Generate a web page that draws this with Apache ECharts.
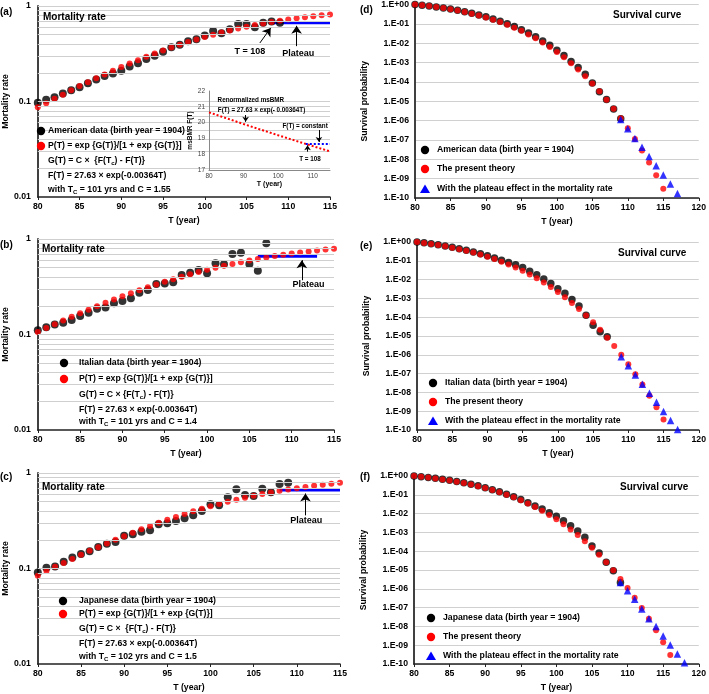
<!DOCTYPE html>
<html><head><meta charset="utf-8">
<script src="https://cdn.jsdelivr.net/npm/echarts@6/dist/echarts.min.js"></script>
<style>html,body{margin:0;padding:0;background:#fff}#c{width:709px;height:694px}</style>
</head><body><div id="c"></div><script>
// ---------- data ----------
const years = [80,81,82,83,84,85,86,87,88,89,90,91,92,93,94,95,96,97,98,99,100,101,102,103,104,105,106,107,108,109,110,111,112,113,114,115,116,117,118];

// mortality rate (a) American, (b) Italian, (c) Japanese
const mortA_black = [0.097,0.104,0.111,0.121,0.131,0.141,0.155,0.170,0.185,0.197,0.210,0.232,0.251,0.278,0.302,0.332,0.369,0.394,0.427,0.448,0.490,0.547,0.517,0.570,0.648,0.648,0.598,0.669,0.690,0.669];
const mortA_red = [0.087,0.096,0.107,0.118,0.131,0.145,0.159,0.175,0.192,0.210,0.230,0.250,0.271,0.294,0.318,0.342,0.367,0.393,0.419,0.446,0.473,0.500,0.527,0.554,0.580,0.605,0.631,0.655,0.678,0.701,0.722,0.743,0.762,0.780,0.798,0.814];
const mortB_black = [0.111,0.119,0.127,0.133,0.142,0.156,0.169,0.186,0.192,0.212,0.224,0.239,0.274,0.292,0.338,0.343,0.352,0.420,0.444,0.473,0.437,0.556,0.543,0.697,0.719,0.547,0.466,0.902];
const mortB_red = [0.106,0.117,0.128,0.140,0.153,0.167,0.182,0.198,0.215,0.232,0.251,0.270,0.291,0.312,0.334,0.356,0.379,0.403,0.427,0.451,0.476,0.500,0.524,0.548,0.572,0.596,0.618,0.641,0.662,0.683,0.703,0.723,0.741,0.759,0.775,0.791];
const mortC_black = [0.091,0.102,0.105,0.118,0.130,0.142,0.152,0.168,0.182,0.190,0.220,0.228,0.243,0.252,0.290,0.297,0.315,0.335,0.360,0.400,0.470,0.460,0.556,0.675,0.590,0.574,0.685,0.630,0.767,0.792];
const mortC_red = [0.084,0.094,0.104,0.114,0.126,0.139,0.153,0.167,0.183,0.200,0.218,0.237,0.257,0.279,0.301,0.324,0.347,0.372,0.397,0.422,0.448,0.474,0.500,0.526,0.552,0.577,0.602,0.626,0.650,0.673,0.694,0.715,0.735,0.755,0.773,0.790];
const plateauA = {from:108, to:115, value:0.667};
const plateauB = {from:106, to:113, value:0.660};
const plateauC = {from:108, to:115, value:0.664};

// survival probability, read as decimal exponent (1.E-xx axis)
const survA_black = [0,-0.035,-0.078,-0.125,-0.178,-0.236,-0.300,-0.372,-0.452,-0.540,-0.638,-0.745,-0.865,-0.997,-1.142,-1.302,-1.478,-1.672,-1.882,-2.112,-2.362,-2.640,-2.945,-3.260,-3.610,-4.060,-4.510,-4.910,-5.400,-5.900];
const survA_red = [0,-0.039,-0.083,-0.133,-0.187,-0.248,-0.316,-0.391,-0.475,-0.568,-0.670,-0.783,-0.908,-1.046,-1.197,-1.363,-1.545,-1.743,-1.960,-2.196,-2.452,-2.731,-3.032,-3.357,-3.707,-4.083,-4.487,-4.920,-5.382,-5.874,-6.398,-6.955,-7.544,-8.168,-8.826,-9.519];
const survA_blue = [-5.94,-6.42,-6.92,-7.38,-7.86,-8.33,-8.81,-9.28,-9.77];
const survB_black = [0,-0.045,-0.095,-0.152,-0.213,-0.283,-0.360,-0.440,-0.530,-0.630,-0.735,-0.850,-0.970,-1.085,-1.215,-1.360,-1.550,-1.740,-1.970,-2.210,-2.490,-2.720,-3.060,-3.400,-3.900,-4.430,-4.770,-5.040];
const survB_red = [0,-0.049,-0.103,-0.162,-0.228,-0.300,-0.380,-0.467,-0.563,-0.667,-0.782,-0.908,-1.044,-1.194,-1.356,-1.532,-1.724,-1.931,-2.155,-2.397,-2.657,-2.938,-3.239,-3.561,-3.906,-4.275,-4.668,-5.087,-5.531,-6.003,-6.502,-7.030,-7.586,-8.173,-8.790,-9.439];
const survB_blue = [-6.10,-6.58,-7.07,-7.56,-8.05,-8.53,-9.02,-9.50,-9.98];
const survC_black = [0,-0.035,-0.075,-0.120,-0.170,-0.228,-0.290,-0.360,-0.440,-0.525,-0.620,-0.725,-0.840,-0.965,-1.100,-1.255,-1.420,-1.600,-1.750,-1.950,-2.140,-2.380,-2.640,-2.930,-3.260,-3.720,-4.100,-4.590,-5.040,-5.660];
const survC_red = [0,-0.038,-0.081,-0.129,-0.181,-0.240,-0.305,-0.376,-0.456,-0.544,-0.641,-0.748,-0.865,-0.995,-1.136,-1.292,-1.461,-1.647,-1.848,-2.068,-2.306,-2.564,-2.843,-3.144,-3.468,-3.817,-4.190,-4.590,-5.017,-5.473,-5.958,-6.473,-7.018,-7.596,-8.206,-8.849,-9.525];
const survC_blue = [-5.66,-6.10,-6.56,-7.07,-7.59,-8.01,-8.51,-8.99,-9.47,-9.93];
const survTickLabels = ['1.E-10','1.E-09','1.E-08','1.E-07','1.E-06','1.E-05','1.E-04','1.E-03','1.E-02','1.E-01','1.E+00'];

// inset: renormalized msBMR
const insetT = [80,85,90,95,100,105,110,115];
const insetF = [20.650,20.278,19.912,19.553,19.200,18.854,18.514,18.180];
const insetPlateau = {from:108, to:115, value:18.65};

// minor/major horizontal grid lines of the mortality panels
const mortGridVals = [0.02,0.03,0.04,0.05,0.06,0.07,0.08,0.09,0.1,0.2,0.3,0.4,0.5,0.6,0.7,0.8,0.9,1];

// ---------- helpers ----------
const FONT = '"Liberation Sans", Arial, sans-serif';
const bold = s => 'bold ' + s + 'px ' + FONT;
function span(a, b){ return years.slice(a - 80, b - 79); }
function pairs(xs, ys){ return ys.map((v, i) => [xs[i], v]); }
const TXT = {fontFamily: FONT, fontWeight: 'bold', color: '#000'};

const grids = [
  {left:33, top:6, width:297, height:191},
  {left:33, top:239, width:301, height:191},
  {left:33, top:473, width:307, height:191},
  {left:415, top:4, width:286, height:194},
  {left:417, top:242, width:284, height:188},
  {left:414, top:476, width:286, height:188},
  {left:209, top:91, width:121, height:79}
];

function xAx(gi, max){
  return {gridIndex: gi, type:'value', min:80, max:max, interval:5,
    axisLine:{onZero:false, lineStyle:{color:'#222', width:1.5}},
    axisTick:{show:true, length:3, lineStyle:{color:'#222'}},
    axisLabel:Object.assign({fontSize:8.7, margin:5}, TXT),
    splitLine:{show:false},
    name:'T (year)', nameLocation:'middle', nameGap:19,
    nameTextStyle:Object.assign({fontSize:8.7}, TXT)};
}
function mortY(gi){
  return {gridIndex: gi, type:'log', logBase:10, min:0.01, max:1,
    axisLine:{show:true, onZero:false, lineStyle:{color:'#404040', width:2}},
    axisTick:{show:false},
    axisLabel:Object.assign({fontSize:8.7, margin:7, formatter: v => String(Number(v.toPrecision(2)))}, TXT),
    splitLine:{show:false},
    name:'Mortality rate', nameLocation:'middle', nameGap:23,
    nameTextStyle:Object.assign({fontSize:8.7}, TXT)};
}
function survY(gi){
  return {gridIndex: gi, type:'value', min:-10, max:0, interval:1,
    axisLine:{show:true, onZero:false, lineStyle:{color:'#404040', width:2}},
    axisTick:{show:false},
    axisLabel:Object.assign({fontSize:8.7, margin:6, formatter: v => survTickLabels[Math.round(v) + 10]}, TXT),
    splitLine:{show:true, lineStyle:{color:'#d0d0d0', width:1}},
    name:'Survival probability', nameLocation:'middle', nameGap:46,
    nameTextStyle:Object.assign({fontSize:8.7}, TXT)};
}

function arrowML(list, size){
  return {silent:true, symbol:['none','arrow'], symbolSize: size || 8,
    itemStyle:{color:'#000'},
    lineStyle:{color:'#000', width:1, type:'solid'}, label:{show:false},
    data: list.map(a => [{coord:a[0], symbol:'none'}, {coord:a[1], symbol:'arrow', symbolSize: size || 8}])};
}
function textMP(list, size){
  return {silent:true, symbol:'circle', symbolSize:0,
    label:Object.assign({show:true, position:'inside', fontSize:size}, TXT),
    data: list.map(t => ({coord:[t[0], t[1]], label:{formatter:t[2]}}))};
}

function mortSeries(gi, black, blackTo, red, plat, arrows, texts){
  return [
    {type:'scatter', xAxisIndex:gi, yAxisIndex:gi, data:[], z:1,
      markLine:{silent:true, symbol:'none', label:{show:false},
        lineStyle:{color:'#cfcfcf', width:1, type:'solid'},
        data: mortGridVals.map(v => ({yAxis:v}))}},
    {type:'scatter', xAxisIndex:gi, yAxisIndex:gi, data:pairs(span(80, blackTo), black),
      symbolSize:8, itemStyle:{color:'#000'}, z:3},
    {type:'scatter', xAxisIndex:gi, yAxisIndex:gi, data:pairs(span(80, 115), red),
      symbolSize:6, itemStyle:{color:'#ff0000'}, z:4},
    {type:'line', xAxisIndex:gi, yAxisIndex:gi, data:[[plat.from, plat.value],[plat.to, plat.value]],
      symbol:'none', lineStyle:{color:'#0000ff', width:3}, z:3},
    {type:'scatter', xAxisIndex:gi, yAxisIndex:gi, data:[], z:6,
      markLine: arrowML(arrows, 8), markPoint: textMP(texts, 9)}
  ];
}
function survSeries(gi, black, blackTo, red, redTo, blue, blueTo){
  return [
    {type:'scatter', xAxisIndex:gi, yAxisIndex:gi, data:pairs(span(80, blackTo), black),
      symbolSize:7.5, itemStyle:{color:'#000'}, z:3},
    {type:'scatter', xAxisIndex:gi, yAxisIndex:gi, data:pairs(span(80, redTo), red),
      symbolSize:6, itemStyle:{color:'#ff0000'}, z:4},
    {type:'scatter', xAxisIndex:gi, yAxisIndex:gi, data:pairs(span(109, blueTo), blue),
      symbol:'triangle', symbolSize:7.5, itemStyle:{color:'#0000ff'}, z:5}
  ];
}

// ---------- graphic texts / legends ----------
const g = [];
function T(x, y, text, size, extra){
  g.push({type:'text', x:x, y:y, z:20, style:Object.assign({text:text, font:bold(size), fill:'#000', align:'left', verticalAlign:'middle'}, extra || {})});
}
function dot(x, y, color){ g.push({type:'circle', z:20, shape:{cx:x, cy:y, r:4.2}, style:{fill:color}}); }
function tri(x, y){ g.push({type:'polygon', z:20, shape:{points:[[x, y-4.5],[x+5, y+4],[x-5, y+4]]}, style:{fill:'#0000ff'}}); }
const subRich = {s:{font:bold(6), verticalAlign:'bottom', padding:[5,0,0,0]}};

// panel letters
T(0, 12, '(a)', 10); T(0, 245, '(b)', 10); T(0, 477, '(c)', 10);
T(360, 10, '(d)', 10); T(360, 246, '(e)', 10); T(360, 477, '(f)', 10);
// titles
T(43, 17, 'Mortality rate', 10); T(42, 249, 'Mortality rate', 10); T(42, 487, 'Mortality rate', 10);
T(613, 15, 'Survival curve', 10); T(618, 253, 'Survival curve', 10); T(620, 487, 'Survival curve', 10);

// mortality legends
function mortLegend(cx, tx, rows, first, G, Tc, C){
  dot(cx, rows[0], '#000'); dot(cx, rows[1], '#ff0000');
  T(tx, rows[0], first, 8.7);
  T(tx, rows[1], 'P(T) = exp {G(T)}/[1 + exp {G(T)}]', 8.7);
  T(tx, rows[2], G, 8.7, {rich:subRich});
  T(tx, rows[3], 'F(T) = 27.63 × exp(-0.00364T)', 8.7);
  T(tx, rows[4], 'with T{s|C} = ' + Tc + ' yrs and C = ' + C, 8.7, {rich:subRich});
}
mortLegend(41, 48, [131,146,161,176,190], 'American data (birth year = 1904)', 'G(T) = C ×  {F(T{s|c}) - F(T)}', 101, 1.55);
mortLegend(64, 79, [363,379,395,410,422], 'Italian data (birth year = 1904)', 'G(T) = C × {F(T{s|c}) - F(T)}', 101, 1.4);
mortLegend(63, 79, [601,614,629,644,657], 'Japanese data (birth year = 1904)', 'G(T) = C ×  {F(T{s|c}) - F(T)}', 102, 1.5);

// survival legends
function survLegend(cx, tx, rows, first){
  dot(cx, rows[0], '#000'); dot(cx, rows[1], '#ff0000'); tri(cx, rows[2]);
  T(tx, rows[0], first, 8.7);
  T(tx, rows[1], 'The present theory', 8.7);
  T(tx, rows[2], 'With the plateau effect in the mortality rate', 8.7);
}
survLegend(425, 437, [150,169,189], 'American data (birth year = 1904)');
survLegend(433, 445, [383,402,421], 'Italian data (birth year = 1904)');
survLegend(431, 443, [618,637,656], 'Japanese data (birth year = 1904)');

// white box behind inset
g.push({type:'rect', z:5, shape:{x:187, y:84, width:153, height:106}, style:{fill:'#fff'}});

// ---------- option ----------
const series = [].concat(
  mortSeries(0, mortA_black, 109, mortA_red, plateauA,
    [[[106.6,0.41],[107.9,0.59]], [[111,0.38],[111,0.62]]],
    [[105.4,0.33,'T = 108'], [111.2,0.32,'Plateau']]),
  mortSeries(1, mortB_black, 107, mortB_red, plateauB,
    [[[111.2,0.37],[111.2,0.6]]],
    [[112.0,0.33,'Plateau']]),
  mortSeries(2, mortC_black, 109, mortC_red, plateauC,
    [[[111,0.36],[111,0.61]]],
    [[111.1,0.316,'Plateau']]),
  survSeries(3, survA_black, 109, survA_red, 115, survA_blue, 117),
  survSeries(4, survB_black, 107, survB_red, 115, survB_blue, 117),
  survSeries(5, survC_black, 109, survC_red, 116, survC_blue, 118),
  [
    {type:'line', xAxisIndex:6, yAxisIndex:6, data:pairs(insetT, insetF), symbol:'none', z:7,
      lineStyle:{color:'#ff0000', width:2, type:[2,2]}},
    {type:'line', xAxisIndex:6, yAxisIndex:6, data:[[insetPlateau.from, insetPlateau.value],[insetPlateau.to, insetPlateau.value]],
      symbol:'none', z:7, lineStyle:{color:'#0000ff', width:2, type:[2,2]}},
    {type:'scatter', xAxisIndex:6, yAxisIndex:6, data:[], z:8,
      markLine: arrowML([[[90.6,20.48],[90.6,20.05]], [[111.8,19.53],[111.8,18.78]], [[108.5,18.16],[108.5,18.56]]], 5),
      markPoint: textMP([[92.1,21.39,'Renormalized msBMR'], [95.2,20.80,'F(T) = 27.63 × exp(- 0.00364T)'],
                         [107.8,19.74,'F(T) = constant'], [109.2,17.68,'T = 108']], 6.3)}
  ]
);

const option = {
  animation:false,
  backgroundColor:'#fff',
  grid: grids.map(gr => Object.assign({containLabel:false}, gr)),
  xAxis: [xAx(0,115), xAx(1,115), xAx(2,115), xAx(3,120), xAx(4,120), xAx(5,120),
    {gridIndex:6, type:'value', min:80, max:115, interval:10, z:6,
      axisLine:{onZero:false, lineStyle:{color:'#888', width:1}}, axisTick:{show:false},
      axisLabel:{fontSize:6.5, color:'#444', fontFamily:FONT, margin:3, showMaxLabel:false},
      splitLine:{show:false}, name:'T (year)', nameLocation:'middle', nameGap:10,
      nameTextStyle:Object.assign({fontSize:7}, TXT)}],
  yAxis: [mortY(0), mortY(1), mortY(2), survY(3), survY(4), survY(5),
    {gridIndex:6, type:'value', min:17, max:22, interval:1, z:6,
      axisLine:{show:true, onZero:false, lineStyle:{color:'#888', width:1}}, axisTick:{show:false},
      axisLabel:{fontSize:6.5, color:'#444', fontFamily:FONT, margin:4},
      splitLine:{show:false}, name:'msBMR F(T)', nameLocation:'middle', nameGap:14,
      nameTextStyle:Object.assign({fontSize:6.5}, TXT)}],
  series: series,
  graphic: {elements: g}
};
const chart = echarts.init(document.getElementById('c'), null, {renderer:'canvas'});
chart.setOption(option);
</script></body></html>
